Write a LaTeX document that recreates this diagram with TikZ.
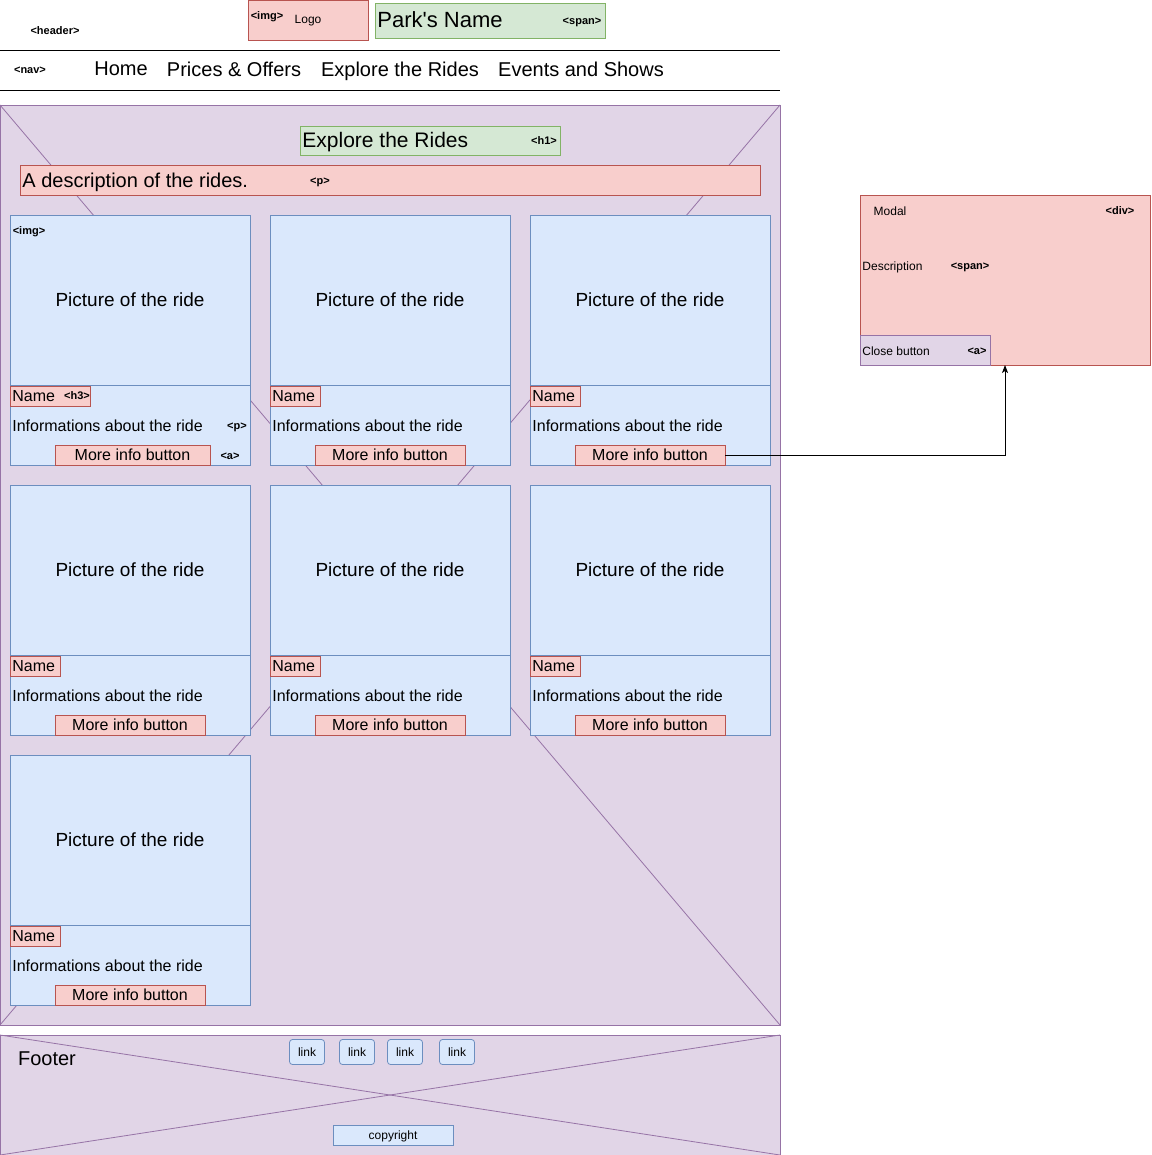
\documentclass[tikz,border=0pt]{standalone}
\usepackage{fontspec}
\setmainfont{Liberation Sans}[Ligatures=TeXOff]
\usepackage{tikz}
\usetikzlibrary{arrows,arrows.meta}

\definecolor{redfill}{HTML}{F8CECC}
\definecolor{redline}{HTML}{B85450}
\definecolor{greenfill}{HTML}{D5E8D4}
\definecolor{greenline}{HTML}{82B366}
\definecolor{bluefill}{HTML}{DAE8FC}
\definecolor{blueline}{HTML}{6C8EBF}
\definecolor{purplefill}{HTML}{E1D5E7}
\definecolor{purpleline}{HTML}{9673A6}

\begin{document}
\begin{tikzpicture}
		[x=1pt,y=-1pt,line width=0.8pt,
		b/.style= {rectangle,anchor=north west,inner sep=0,outer sep=0,text depth=0pt},
		redbox/.style= {b,draw=redline,fill=redfill},
		greenbox/.style= {b,draw=greenline,fill=greenfill},
		bluebox/.style= {b,draw=blueline,fill=bluefill},
		purplebox/.style= {b,draw=purpleline,fill=purplefill},
		linkbox/.style= {rectangle,rounded corners=3pt,draw=blueline,fill=bluefill,minimum width=35,minimum height=25,inner sep=0,font=\fontsize{12}{14}\selectfont},
		t/.style= {inner sep=0,text depth=0pt,font=\fontsize{16}{19}\selectfont},
		big/.style= {inner sep=0,text depth=0pt,font=\fontsize{20}{24}\selectfont},
		small/.style= {inner sep=0,text depth=0pt,font=\fontsize{12}{14}\selectfont},
		htmltag/.style= {inner sep=0,text depth=0pt,font=\bfseries\fontsize{11}{13}\selectfont}]

		\useasboundingbox (0,0) rectangle (1151,1155);

		% header and nav
		\node[htmltag] (headertag) at (55,31) {<header>};
		\node[redbox,minimum width=120,minimum height=40] (logo) at (248,0) {};
		\node[htmltag] (imgtag) at (267,16) {<img>};
		\node[small] (logotext) at (308,19) {Logo};
		\node[greenbox,minimum width=230,minimum height=35] (park) at (375,3) {};
		\node[inner sep=0,text depth=0pt,font=\fontsize{22}{26}\selectfont,anchor=west] (parkname) at (377,20) {Park's Name};
		\node[htmltag] (spantag) at (582,21) {<span>};

		\draw (0,50) -- (780,50);
		\draw (0,90) -- (780,90);
		\node[htmltag] (navtag) at (30,70) {<nav>};
		\node[big] (home) at (121,69) {Home};
		\node[big] (prices) at (234,69) {Prices \& Offers};
		\node[big] (explore) at (400,69) {Explore the Rides};
		\node[big] (events) at (581,69) {Events and Shows};

		% main
		\node[purplebox,minimum width=780,minimum height=920] (main) at (0,105) {};
		\draw[purpleline] (main.north west) -- (main.south east);
		\draw[purpleline] (main.north east) -- (main.south west);

		\node[greenbox,minimum width=260,minimum height=29] (h1) at (300,126) {};
		\node[inner sep=0,text depth=0pt,font=\fontsize{21}{25}\selectfont,anchor=west] (h1text) at (302,140) {Explore the Rides};
		\node[htmltag] (h1tag) at (544,141) {<h1>};
		\node[redbox,minimum width=740,minimum height=30] (desc) at (20,165) {};
		\node[big,anchor=west] (desctext) at (22,180) {A description of the rides.};
		\node[htmltag] (ptag) at (320,181) {<p>};

		\foreach \i/\x/\y/\w/\bw in {1/10/215/80/155,2/270/215/50/150,3/530/215/50/150,
				4/10/485/50/150,5/270/485/50/150,6/530/485/50/150,7/10/755/50/150}
		{
			\node[bluebox,minimum width=240,minimum height=170,font=\fontsize{19}{22}\selectfont] (pic\i) at (\x,\y) {Picture of the ride};
			\node[bluebox,minimum width=240,minimum height=80] (info\i) at (\x,\y+170) {};
			\node[redbox,minimum width=\w,minimum height=20] (name\i) at (\x,\y+171) {};
			\node[t,anchor=west] (nametext\i) at (\x+2,\y+181) {Name};
			\node[t,anchor=west] (about\i) at (\x+2,\y+211) {Informations about the ride};
			\node[redbox,minimum width=\bw,minimum height=20,font=\fontsize{16}{19}\selectfont] (btn\i) at (\x+45,\y+230) {More info button};
		}
		\node[htmltag] (picimg) at (29,231) {<img>};
		\node[htmltag] (h3tag) at (77,396) {<h3>};
		\node[htmltag] (ptag1) at (237,426) {<p>};
		\node[htmltag] (atag1) at (230,456) {<a>};

		% modal
		\node[redbox,minimum width=290,minimum height=170] (modal) at (860,195) {};
		\node[small] (modaltext) at (890,211) {Modal};
		\node[htmltag] (divtag) at (1120,211) {<div>};
		\node[small,anchor=west] (modaldesc) at (862,266) {Description};
		\node[htmltag] (modalspan) at (970,266) {<span>};
		\node[purplebox,minimum width=130,minimum height=30] (close) at (860,335) {};
		\node[small,anchor=west] (closetext) at (862,351) {Close button};
		\node[htmltag] (closetag) at (977,351) {<a>};

		\draw[-{Stealth[length=8pt,width=6pt,inset=2pt]}] (btn3.east) -| (modal.south);

		% footer
		\node[purplebox,minimum width=780,minimum height=120] (footer) at (0,1035) {};
		\draw[purpleline] (footer.north west) -- (footer.south east);
		\draw[purpleline] (footer.north east) -- (footer.south west);
		\node[big] (footertext) at (47,1059) {Footer};
		\node[linkbox] (link1) at (307,1052) {link};
		\node[linkbox] (link2) at (357,1052) {link};
		\node[linkbox] (link3) at (405,1052) {link};
		\node[linkbox] (link4) at (457,1052) {link};
		\node[bluebox,minimum width=120,minimum height=20,font=\fontsize{12}{14}\selectfont] (copyright) at (333,1125) {copyright};

\end{tikzpicture}
\end{document}
